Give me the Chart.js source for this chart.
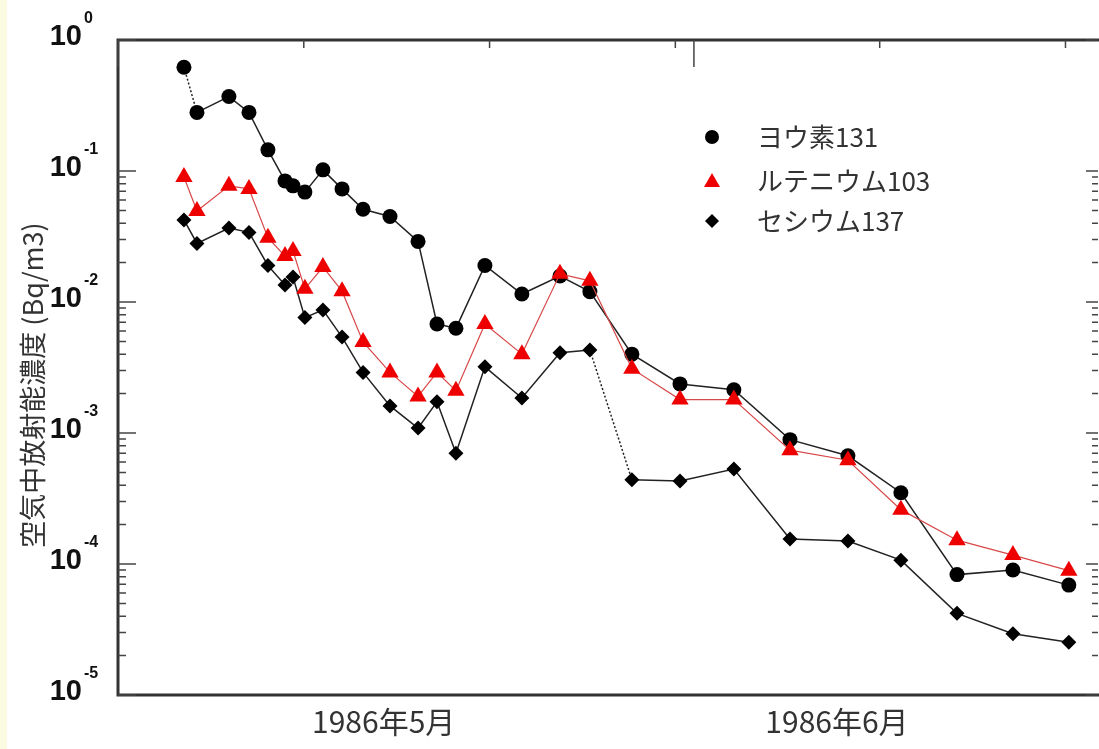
<!DOCTYPE html>
<html lang="ja">
<head>
<meta charset="utf-8">
<title>空気中放射能濃度 1986年5月〜6月</title>
<script src="https://cdn.jsdelivr.net/npm/chart.js@4.4.1/dist/chart.umd.min.js"></script>
<style>
    html, body { margin: 0; padding: 0; background: #fff; }
    #wrap { position: relative; width: 1099px; height: 749px; overflow: hidden; }
</style>
</head>
<body>
<div id="wrap"><canvas id="chart" width="1099" height="749"></canvas></div>
<script>
// sampling days, counted from 1986-05-01 00:00
const days = [3.55, 4.25, 5.97, 7.05, 8.07, 8.99, 9.42, 10.06, 11.03, 12.06, 13.19, 14.64, 16.15, 17.17,
              18.19, 19.75, 21.74, 23.79, 25.40, 27.66, 30.25, 33.15, 36.17, 39.29, 42.14, 45.16, 48.17, 51.18];

// Bq/m3
const iodine131 = [0.62, 0.28, 0.37, 0.28, 0.145, 0.084, 0.077, 0.069, 0.102, 0.073, 0.051, 0.045, 0.029, 0.0068,
                   0.0063, 0.019, 0.0115, 0.0158, 0.012, 0.0040, 0.00237, 0.00214, 0.00089, 0.00067, 0.00035,
                   0.000083, 0.00009, 0.000069];
const ruthenium103 = [0.090, 0.0495, 0.077, 0.073, 0.031, 0.0224, 0.0245, 0.0126, 0.0185, 0.0121, 0.00495, 0.0029,
                      0.0019, 0.0029, 0.0021, 0.0068, 0.0040, 0.0164, 0.0145, 0.0031, 0.0018, 0.0018, 0.00074,
                      0.00062, 0.00026, 0.000152, 0.000117, 0.000089];
const cesium137 = [0.0423, 0.028, 0.0367, 0.034, 0.019, 0.0135, 0.0155, 0.0076, 0.0087, 0.0054, 0.0029, 0.00161,
                   0.00109, 0.00173, 0.00070, 0.0032, 0.00185, 0.0041, 0.0043, 0.00044, 0.00043, 0.00053,
                   0.000155, 0.00015, 0.000107, 0.000042, 0.0000294, 0.0000253];

const seriesLabels = ['ヨウ素131', 'ルテニウム103', 'セシウム137'];

// segments drawn dotted (index of segment start point)
const dottedI131 = [0];
const dottedCs137 = [18];

// axis ticks
const yDecades = [1, 0.1, 0.01, 0.001, 0.0001, 0.00001];
const yExponents = ['0', '-1', '-2', '-3', '-4', '-5'];
const tenDayTicks = [10, 20, 30, 41, 51];
const monthStarts = [0, 31];
const monthLabels = ['1986年5月', '1986年6月'];
const monthLabelDays = [14.3, 38.7];
const yTitle = '空気中放射能濃度 (Bq/m3)';

const toPoints = vals => days.map((d, i) => ({ x: d, y: vals[i] }));

const framePlugin = {
    id: 'frame',
    beforeDraw(chart) {
        const c = chart.ctx;
        c.save();
        c.fillStyle = '#fbfbe2';
        c.fillRect(0, 0, 7, chart.height);
        c.restore();
    },
    beforeDatasetsDraw(chart) {
        const { ctx: c, chartArea: a, scales: { x, y } } = chart;
        c.save();
        c.strokeStyle = '#333';
        c.lineWidth = 3;
        c.beginPath();
        c.moveTo(chart.width, a.top);
        c.lineTo(a.left, a.top);
        c.lineTo(a.left, a.bottom);
        c.lineTo(chart.width, a.bottom);
        c.stroke();

        c.lineWidth = 1.5;
        c.strokeStyle = '#444';
        c.beginPath();
        // y major + minor ticks on both sides
        yDecades.forEach(v => {
            const py = y.getPixelForValue(v);
            c.moveTo(a.left, py); c.lineTo(a.left + 18, py);
            c.moveTo(a.right, py); c.lineTo(a.right - 12, py);
            if (v >= 0.1) return;
            for (let m = 2; m <= 9; m++) {
                const pm = y.getPixelForValue(v * m);
                c.moveTo(a.left, pm); c.lineTo(a.left + 8, pm);
                c.moveTo(a.right, pm); c.lineTo(a.right - 6, pm);
            }
        });
        // top day ticks
        tenDayTicks.forEach(d => {
            const px = x.getPixelForValue(d);
            c.moveTo(px, a.top); c.lineTo(px, a.top + 8);
        });
        monthStarts.forEach(d => {
            const px = x.getPixelForValue(d);
            c.moveTo(px, a.top); c.lineTo(px, a.top + 27);
        });
        c.stroke();
        c.restore();
    },
    afterDraw(chart) {
        const { ctx: c, chartArea: a, scales: { x, y } } = chart;
        c.save();
        c.fillStyle = '#111';

        // y tick labels 10^n
        yDecades.forEach((v, i) => {
            const py = y.getPixelForValue(v);
            c.font = 'bold 29px "Liberation Sans", Arial, sans-serif';
            c.textAlign = 'right';
            c.textBaseline = 'middle';
            c.fillText('10', 82, py - 3);
            c.font = 'bold 16px "Liberation Sans", Arial, sans-serif';
            c.textAlign = 'left';
            c.fillText(yExponents[i], 84, py - 21);
        });

        // x month labels
        c.fillStyle = '#333';
        c.font = '30px "Noto Sans CJK JP", sans-serif';
        c.textAlign = 'center';
        c.textBaseline = 'middle';
        monthLabels.forEach((t, i) => {
            c.fillText(t, x.getPixelForValue(monthLabelDays[i]), a.bottom + 27);
        });

        // y axis title
        c.save();
        c.translate(33, 385);
        c.rotate(-Math.PI / 2);
        c.font = '27px "Noto Sans CJK JP", sans-serif';
        c.fillText(yTitle, 0, 0);
        c.restore();

        // legend
        const rows = [137, 181, 221];
        chart.data.datasets.forEach((ds, i) => {
            const ly = rows[i], lx = 712;
            c.fillStyle = ds.pointBackgroundColor;
            c.beginPath();
            if (ds.pointStyle === 'circle') {
                c.arc(lx, ly, 7, 0, Math.PI * 2);
            } else if (ds.pointStyle === 'triangle') {
                c.moveTo(lx, ly - 8); c.lineTo(lx + 8, ly + 6); c.lineTo(lx - 8, ly + 6);
            } else {
                c.moveTo(lx, ly - 7); c.lineTo(lx + 7, ly); c.lineTo(lx, ly + 7); c.lineTo(lx - 7, ly);
            }
            c.closePath();
            c.fill();
            c.fillStyle = '#333';
            c.font = '26px "Noto Sans CJK JP", sans-serif';
            c.textAlign = 'left';
            c.textBaseline = 'middle';
            c.fillText(ds.label, 757, ly);
        });
        c.restore();
    }
};

new Chart(document.getElementById('chart'), {
    type: 'line',
    data: {
        datasets: [
            {
                label: seriesLabels[0],
                data: toPoints(iodine131),
                borderColor: '#222',
                borderWidth: 1.5,
                pointStyle: 'circle',
                pointRadius: 7.5,
                pointBackgroundColor: '#000',
                pointBorderColor: '#000',
                pointBorderWidth: 0,
                order: 1,
                segment: { borderDash: s => dottedI131.includes(s.p0DataIndex) ? [2, 2] : undefined }
            },
            {
                label: seriesLabels[1],
                data: toPoints(ruthenium103),
                borderColor: '#d84848',
                borderWidth: 1.2,
                pointStyle: 'triangle',
                pointRadius: 10,
                pointBackgroundColor: '#ee0000',
                pointBorderColor: '#ee0000',
                pointBorderWidth: 0,
                order: 0
            },
            {
                label: seriesLabels[2],
                data: toPoints(cesium137),
                borderColor: '#222',
                borderWidth: 1.5,
                pointStyle: 'rectRot',
                pointRadius: 7.5,
                pointBackgroundColor: '#000',
                pointBorderColor: '#000',
                pointBorderWidth: 0,
                order: 2,
                segment: { borderDash: s => dottedCs137.includes(s.p0DataIndex) ? [2, 2] : undefined }
            }
        ]
    },
    options: {
        responsive: false,
        animation: false,
        layout: { autoPadding: false, padding: { left: 118, top: 40, right: 1, bottom: 54 } },
        plugins: { legend: { display: false }, tooltip: { enabled: false } },
        scales: {
            x: { type: 'linear', min: 0, max: 52.75, display: false },
            y: { type: 'logarithmic', min: 0.00001, max: 1, display: false }
        }
    },
    plugins: [framePlugin]
});
</script>
</body>
</html>
